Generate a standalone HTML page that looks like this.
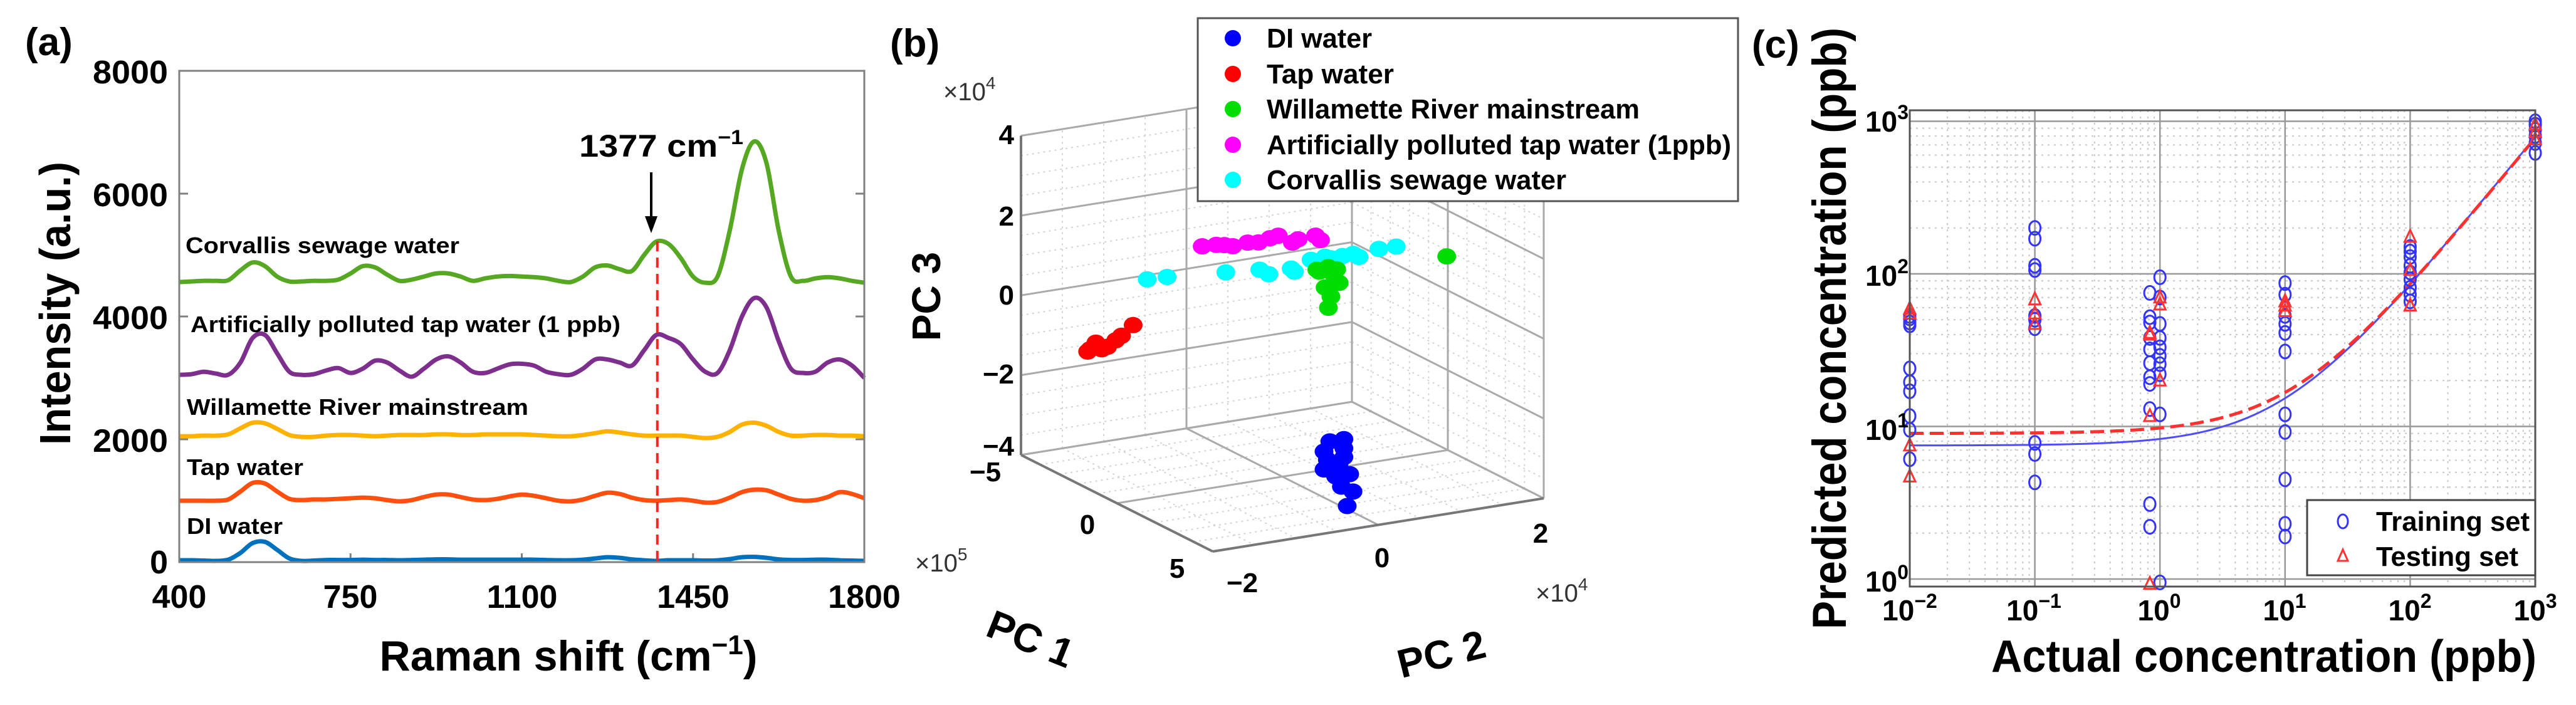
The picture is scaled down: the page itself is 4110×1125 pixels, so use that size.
<!DOCTYPE html>
<html><head><meta charset="utf-8"><style>
html,body{margin:0;padding:0;background:#fff;}
svg{display:block;font-family:"Liberation Sans",Arial,sans-serif;font-weight:bold;}
</style></head><body>
<svg id="fig" width="4110" height="1125" viewBox="0 0 4110 1125" xmlns="http://www.w3.org/2000/svg">
<rect x="0" y="0" width="4110" height="1125" fill="#fff"/>
<g id="panelA">
<text x="40" y="88" font-size="62">(a)</text>
<g id="aGrid"></g>
<g id="aLines"></g>
<rect x="286" y="113" width="1093" height="784" fill="none" stroke="#808080" stroke-width="3"/>
<g font-size="52" text-anchor="end">
<text x="268" y="915">0</text>
<text x="268" y="721" textLength="120" lengthAdjust="spacingAndGlyphs">2000</text>
<text x="268" y="525" textLength="120" lengthAdjust="spacingAndGlyphs">4000</text>
<text x="268" y="329" textLength="120" lengthAdjust="spacingAndGlyphs">6000</text>
<text x="268" y="133" textLength="120" lengthAdjust="spacingAndGlyphs">8000</text>
</g>
<g font-size="52" text-anchor="middle">
<text x="286" y="970">400</text><text x="559" y="970">750</text><text x="833" y="970">1100</text><text x="1106" y="970">1450</text><text x="1379" y="970">1800</text>
</g>
<text x="907" y="1070" font-size="68" text-anchor="middle" textLength="603" lengthAdjust="spacingAndGlyphs">Raman shift (cm<tspan font-size="44" dy="-26">−1</tspan><tspan dy="26">)</tspan></text>
<text transform="translate(112,484) rotate(-90)" font-size="70" text-anchor="middle" textLength="452" lengthAdjust="spacingAndGlyphs">Intensity (a.u.)</text>
<g font-size="36">
<text x="296" y="404" textLength="437" lengthAdjust="spacingAndGlyphs">Corvallis sewage water</text>
<text x="304" y="530" textLength="686" lengthAdjust="spacingAndGlyphs">Artificially polluted tap water (1 ppb)</text>
<text x="298" y="662" textLength="545" lengthAdjust="spacingAndGlyphs">Willamette River mainstream</text>
<text x="298" y="758" textLength="186" lengthAdjust="spacingAndGlyphs">Tap water</text>
<text x="298" y="852" textLength="153" lengthAdjust="spacingAndGlyphs">DI water</text>
</g>
<text x="924" y="250" font-size="50" textLength="262" lengthAdjust="spacingAndGlyphs">1377 cm<tspan font-size="32" dy="-20">−1</tspan></text>
<line x1="1039" y1="275" x2="1039" y2="352" stroke="#000" stroke-width="4"/>
<polygon points="1029,345 1049,345 1039,372" fill="#000"/>
</g>

<g id="panelB">
<text x="1420" y="90" font-size="62">(b)</text>
<g id="bGrid"></g>
<g id="bPts"></g>
<g font-size="44" text-anchor="end">
<text x="1618" y="230">4</text><text x="1618" y="360">2</text><text x="1618" y="486">0</text><text x="1618" y="612">−2</text><text x="1618" y="727">−4</text>
</g>
<text x="1505" y="160" font-size="40" font-weight="normal" fill="#333">×10<tspan font-size="28" dy="-18">4</tspan></text>
<text transform="translate(1500,473) rotate(-90)" font-size="64" text-anchor="middle">PC 3</text>
<g font-size="44" text-anchor="middle">
<text x="1572" y="768">−5</text><text x="1735" y="852">0</text><text x="1878" y="922">5</text>
</g>
<text x="1460" y="912" font-size="40" font-weight="normal" fill="#333">×10<tspan font-size="28" dy="-18">5</tspan></text>
<text transform="translate(1636,1040) rotate(22)" font-size="64" text-anchor="middle">PC 1</text>
<g font-size="44" text-anchor="middle">
<text x="1982" y="945">−2</text><text x="2205" y="905">0</text><text x="2458" y="866">2</text>
</g>
<text x="2450" y="960" font-size="40" font-weight="normal" fill="#333">×10<tspan font-size="28" dy="-18">4</tspan></text>
<text transform="translate(2305,1065) rotate(-14)" font-size="64" text-anchor="middle">PC 2</text>
<g>
<rect x="1911" y="29" width="862" height="292" fill="#fff" stroke="#555" stroke-width="3"/>
<circle cx="1967" cy="61" r="13" fill="#0000ff"/><circle cx="1967" cy="118" r="13" fill="#ff0000"/><circle cx="1967" cy="174" r="13" fill="#00dd00"/><circle cx="1967" cy="231" r="13" fill="#ff00ff"/><circle cx="1967" cy="287" r="13" fill="#00ffff"/>
<g font-size="44">
<text x="2021" y="76" textLength="168" lengthAdjust="spacingAndGlyphs">DI water</text>
<text x="2021" y="133" textLength="203" lengthAdjust="spacingAndGlyphs">Tap water</text>
<text x="2021" y="189" textLength="595" lengthAdjust="spacingAndGlyphs">Willamette River mainstream</text>
<text x="2021" y="246" textLength="741" lengthAdjust="spacingAndGlyphs">Artificially polluted tap water (1ppb)</text>
<text x="2021" y="302" textLength="478" lengthAdjust="spacingAndGlyphs">Corvallis sewage water</text>
</g></g>
</g>

<g id="panelC">
<text x="2795" y="92" font-size="62">(c)</text>
<g id="cGrid"></g>
<g id="cPts"></g>
<rect x="3047" y="176" width="998" height="760" fill="none" stroke="#555" stroke-width="3"/>
<g font-size="46" text-anchor="middle">
<text x="3047" y="990">10<tspan font-size="32" dy="-20">−2</tspan></text>
<text x="3245" y="990">10<tspan font-size="32" dy="-20">−1</tspan></text>
<text x="3445" y="990">10<tspan font-size="32" dy="-20">0</tspan></text>
<text x="3645" y="990">10<tspan font-size="32" dy="-20">1</tspan></text>
<text x="3845" y="990">10<tspan font-size="32" dy="-20">2</tspan></text>
<text x="4045" y="990">10<tspan font-size="32" dy="-20">3</tspan></text>
</g>
<g font-size="46" text-anchor="end">
<text x="3045" y="210">10<tspan font-size="32" dy="-20">3</tspan></text>
<text x="3045" y="456">10<tspan font-size="32" dy="-20">2</tspan></text>
<text x="3045" y="702">10<tspan font-size="32" dy="-20">1</tspan></text>
<text x="3045" y="944">10<tspan font-size="32" dy="-20">0</tspan></text>
</g>
<text x="3612" y="1072" font-size="72" text-anchor="middle" textLength="870" lengthAdjust="spacingAndGlyphs">Actual concentration (ppb)</text>
<text transform="translate(2945,524) rotate(-90)" font-size="76" text-anchor="middle" textLength="960" lengthAdjust="spacingAndGlyphs">Predicted concentration (ppb)</text>
<g>
<rect x="3681" y="798" width="364" height="120" fill="#fff" stroke="#444" stroke-width="3"/>
<ellipse cx="3738" cy="832" rx="8" ry="11" fill="none" stroke="#3333ff" stroke-width="3"/>
<polygon points="3738,877 3730,895 3746,895" fill="none" stroke="#ff3333" stroke-width="3"/>
<text x="3791" y="847" font-size="44" textLength="245" lengthAdjust="spacingAndGlyphs">Training set</text>
<text x="3791" y="903" font-size="44" textLength="227" lengthAdjust="spacingAndGlyphs">Testing set</text>
</g>
</g>
</svg>
<script>
const shifts=[400,425,450,475,500,525,550,575,600,625,650,675,700,725,750,775,800,825,850,875,900,925,950,975,1000,1025,1050,1075,1100,1125,1150,1175,1200,1225,1250,1275,1300,1325,1350,1375,1400,1425,1450,1475,1500,1525,1550,1575,1600,1625,1650,1675,1700,1725,1750,1775,1800];
const diWater=[30,30,25,20,40,150,310,330,200,60,20,25,35,35,35,40,35,35,30,35,40,45,45,40,40,40,40,40,40,40,35,30,30,40,60,80,70,45,30,20,30,30,30,25,30,50,80,85,70,45,35,35,40,40,30,25,20];
const tapWater=[1000,1000,1000,1000,1020,1150,1290,1280,1150,1030,1010,1020,1020,1030,1040,1050,1040,1010,990,1010,1060,1100,1100,1060,1020,1010,1030,1070,1100,1080,1040,1000,990,1020,1080,1130,1110,1050,1010,1000,1010,1020,1000,970,980,1050,1140,1180,1170,1100,1030,1000,1010,1060,1140,1110,1040];
const willamette=[2050,2050,2060,2060,2080,2180,2270,2260,2170,2070,2040,2040,2060,2070,2070,2060,2050,2060,2070,2070,2070,2080,2080,2070,2070,2080,2080,2080,2080,2070,2060,2050,2050,2070,2100,2130,2110,2080,2060,2060,2060,2060,2040,2020,2040,2120,2240,2270,2220,2120,2060,2060,2070,2070,2060,2060,2050];
const artificial=[3050,3060,3100,3070,3050,3250,3650,3700,3400,3100,3050,3060,3120,3160,3080,3150,3280,3250,3120,3020,3150,3300,3350,3250,3100,3080,3150,3220,3230,3200,3100,3060,3050,3150,3300,3300,3250,3200,3450,3700,3650,3550,3300,3100,3080,3450,4000,4300,4150,3600,3150,3080,3100,3250,3300,3200,3000];
const corvallis=[4560,4570,4580,4580,4590,4750,4880,4820,4650,4570,4570,4580,4580,4600,4700,4820,4800,4680,4580,4600,4650,4700,4700,4650,4580,4620,4650,4660,4650,4640,4620,4580,4560,4650,4800,4830,4770,4740,5000,5220,5180,4950,4650,4550,4650,5400,6400,6850,6500,5400,4650,4580,4620,4640,4620,4580,4550];
const aYTicks=[0,2000,4000,6000,8000];
const aXTicks=[400,750,1100,1450,1800];
const markShift=[1377];

const diPC1=[2,2,2,2,2,2,2,2,2,2,2,2,2];
const diPC2=[0.11,0.28,0.04,0.28,0.08,0.28,0.04,0.22,0.35,0.18,0.25,0.39,0.32];
const diPC3=[-2.67,-2.67,-2.90,-2.90,-3.12,-3.12,-3.35,-3.29,-3.57,-3.57,-3.85,-4.02,-4.36];
const tapPC1=[-2,-2,-2,-2,-2,-2,-2,-2];
const tapPC2=[-1.89,-1.79,-1.65,-1.55,-1.48,-1.34,-1.72,-1.86];
const tapPC3=[-0.72,-0.53,-0.68,-0.55,-0.46,-0.24,-0.72,-0.67];
const magPC1=[-5,-5,-5,-5,-5,-5,-5,-5,-5,-5,-5,-5];
const magPC2=[0.19,0.36,0.56,0.74,0.87,1.01,1.11,1.28,1.35,1.56,1.62,0.46];
const magPC3=[0.50,0.48,0.38,0.41,0.37,0.43,0.46,0.23,0.29,0.31,0.18,0.44];
const cyPC1=[-2,-2,-2,-2,-2,-2,-2,-2,-2,-2,-2,-2,-2,-2,-2];
const cyPC2=[-1.17,-0.93,-0.22,0.19,0.30,0.57,0.61,0.81,0.98,1.19,1.32,1.39,1.63,1.84,1.05];
const cyPC3=[0.85,0.83,0.71,0.64,0.49,0.54,0.45,0.68,0.70,0.65,0.66,0.56,0.68,0.67,0.64];
const grPC1=[-2,-2,-2,-2,-2,-2,-2,-2,-2,-2];
const grPC2=[0.88,1.02,1.08,1.15,0.98,1.05,1.02,0.91,1.12,2.45];
const grPC3=[0.41,0.43,0.23,-0.01,-0.07,-0.32,-0.59,0.35,0.34,0.22];

const trainX=[0.01,0.01,0.01,0.01,0.01,0.01,0.01,0.01,0.01,0.01,
 0.1,0.1,0.1,0.1,0.1,0.1,0.1,0.1,0.1,0.1,
 0.83,0.83,0.83,0.83,0.83,0.83,0.83,0.83,0.83,0.83,0.83,
 1,1,1,1,1,1,1,1,1,1,
 10,10,10,10,10,10,10,10,10,10,10,
 100,100,100,100,100,100,100,100,100,
 1000,1000,1000,1000,1000,1000];
const trainY=[53,51,48,46,24,19.5,17,11.7,9.5,6.1,
 200,170,113,106,53,50,44,7.8,6.6,4.3,
 75,52,48,38,32,26,21,19,13,3.1,2.2,
 95,70,47,38,33,29,25.6,22,12,0.95,
 87,73,53,47,41,31,12,9.2,4.5,2.3,1.9,
 150,140,129,113,102,92,81,73,66,
 1000,950,880,800,720,620];
const testX=[0.01,0.01,0.01,0.01,0.1,0.1,0.1,0.83,0.83,0.83,0.83,1,1,1,10,10,10,100,100,100,1000,1000,1000];
const testY=[59,55,7.5,4.7,68,55,47,41,40,11.7,0.93,70,63,20,66,62,57,175,106,62,950,850,760];
const fitTrain=[7.5,0.78];
const fitTest=[9.0,0.77];

const NS="http://www.w3.org/2000/svg";
function mk(tag,attrs,parent){const e=document.createElementNS(NS,tag);for(const k in attrs)e.setAttribute(k,attrs[k]);parent.appendChild(e);return e;}

const xa=s=>286+(s-400)/1400*1093;
const ya=v=>897-v/8000*784;
const aLines=document.getElementById('aLines');
const aGrid=document.getElementById('aGrid');
aYTicks.forEach(t=>{
  const l=mk('line',{x1:286,x2:300,y1:ya(t),y2:ya(t),stroke:'#808080','stroke-width':3},aGrid);
  
  
  const r=mk('line',{x1:1365,x2:1379,y1:ya(t),y2:ya(t),stroke:'#808080','stroke-width':3},aGrid);
  
  
});
aXTicks.forEach(t=>{
  const l=mk('line',{x1:xa(t),x2:xa(t),y1:897,y2:883,stroke:'#808080','stroke-width':3},aGrid);
  
  
});
function smoothPath(xs,ys){
  let d=`M${xs[0]},${ys[0]}`;
  for(let i=0;i<xs.length-1;i++){
    const x0=xs[Math.max(i-1,0)],y0=ys[Math.max(i-1,0)],x1=xs[i],y1=ys[i],x2=xs[i+1],y2=ys[i+1],x3=xs[Math.min(i+2,xs.length-1)],y3=ys[Math.min(i+2,xs.length-1)];
    d+=` C${x1+(x2-x0)/6},${y1+(y2-y0)/6} ${x2-(x3-x1)/6},${y2-(y3-y1)/6} ${x2},${y2}`;
  }
  return d;
}
const aSeries=[[diWater,'#0072BD','di-water-spectrum'],[tapWater,'#FF4F0F','tap-water-spectrum'],[willamette,'#FFB300','willamette-spectrum'],[artificial,'#7E2F8E','artificial-spectrum'],[corvallis,'#56A822','corvallis-spectrum']];
aSeries.forEach(([vals,col,name])=>{
  const p=mk('path',{d:smoothPath(shifts.map(xa),vals.map(ya)),fill:'none',stroke:col,'stroke-width':7,'stroke-linejoin':'round'},aLines);
  
  
});
markShift.forEach(s=>{
  const l=mk('line',{x1:xa(s),x2:xa(s),y1:385,y2:897,stroke:'#ff2020','stroke-width':4,'stroke-dasharray':'16,10'},aLines);
  
  
});

const P=(p1,p2,p3)=>[1629+30.6*(p1+5)+132.0*(p2+2), 726+15.4*(p1+5)-21.2*(p2+2)-63.67*(p3+4)];
const bGrid=document.getElementById('bGrid');
function seg(a,b,col,w,dash,name){
  const l=mk('line',{x1:a[0],y1:a[1],x2:b[0],y2:b[1],stroke:col,'stroke-width':w},bGrid);
  if(dash)l.setAttribute('stroke-dasharray',dash);
  
  
}
for(let z=-4;z<=4.01;z+=0.5){seg(P(-5,-2,z),P(-5,2,z),'#d4d4d4',2,'3,6','minor-grid-b');seg(P(-5,2,z),P(5,2,z),'#d4d4d4',2,'3,6','minor-grid-b');}
for(let q=-2;q<=2.01;q+=0.5){seg(P(-5,q,-4),P(-5,q,4),'#d4d4d4',2,'3,6','minor-grid-b');seg(P(-5,q,-4),P(5,q,-4),'#d4d4d4',2,'3,6','minor-grid-b');}
for(let q=-5;q<=5.01;q+=1){seg(P(q,2,-4),P(q,2,4),'#d4d4d4',2,'3,6','minor-grid-b');seg(P(q,-2,-4),P(q,2,-4),'#d4d4d4',2,'3,6','minor-grid-b');}
[-4,-2,0,2,4].forEach(z=>{seg(P(-5,-2,z),P(-5,2,z),'#aaa',3,null,'major-grid-b');seg(P(-5,2,z),P(5,2,z),'#aaa',3,null,'major-grid-b');});
[-2,0,2].forEach(q=>{seg(P(-5,q,-4),P(-5,q,4),'#aaa',3,null,'major-grid-b');seg(P(-5,q,-4),P(5,q,-4),'#aaa',3,null,'major-grid-b');});
[-5,0,5].forEach(q=>{seg(P(q,2,-4),P(q,2,4),'#aaa',3,null,'major-grid-b');seg(P(q,-2,-4),P(q,2,-4),'#aaa',3,null,'major-grid-b');});
seg(P(-5,-2,-4),P(5,-2,-4),'#777',4,null,'pc1-axis-line');
seg(P(5,-2,-4),P(5,2,-4),'#777',4,null,'pc2-axis-line');
seg(P(-5,-2,-4),P(-5,-2,4),'#777',4,null,'pc3-axis-line');
const bPts=document.getElementById('bPts');
const bSeries=[[diPC1,diPC2,diPC3,'#0000ff','di-water-point'],[tapPC1,tapPC2,tapPC3,'#ff0000','tap-water-point'],[magPC1,magPC2,magPC3,'#ff00ff','artificial-point'],[cyPC1,cyPC2,cyPC3,'#00ffff','corvallis-point'],[grPC1,grPC2,grPC3,'#00dd00','willamette-point']];
bSeries.forEach(([a,b,c,col,name])=>{
  a.forEach((v,i)=>{
    const [x,y]=P(v,b[i],c[i]);
    const e=mk('ellipse',{cx:x,cy:y,rx:15,ry:13,fill:col},bPts);
    
    
  });
});

const xc=v=>3047+(Math.log10(v)+2)*199.6;
const yc=v=>924-Math.log10(v)*243.5;
const cGrid=document.getElementById('cGrid');
function cl(x1,y1,x2,y2,col,w,dash,name){
  const l=mk('line',{x1,y1,x2,y2,stroke:col,'stroke-width':w},cGrid);
  if(dash)l.setAttribute('stroke-dasharray',dash);
  
  
}
for(let d=-2;d<3;d++)for(let m=2;m<10;m++){const x=xc(m*Math.pow(10,d));cl(x,176,x,936,'#c8c8c8',2,'3,7','minor-gridline-x');}
for(let d=0;d<3;d++)for(let m=2;m<10;m++){const y=yc(m*Math.pow(10,d));cl(3047,y,4045,y,'#c8c8c8',2,'3,7','minor-gridline-y');}
[0.01,0.1,1,10,100,1000].forEach(v=>cl(xc(v),176,xc(v),936,'#999',2.5,null,'major-gridline-x'));
[1,10,100,1000].forEach(v=>cl(3047,yc(v),4045,yc(v),'#999',2.5,null,'major-gridline-y'));
const cPts=document.getElementById('cPts');
function fitPath(par){
  let d='';
  for(let i=0;i<=100;i++){const v=Math.pow(10,-2+i*0.05);d+=(i?'L':'M')+xc(v)+','+yc(par[0]+par[1]*v);}
  return d;
}
const fb=mk('path',{d:fitPath(fitTrain),fill:'none',stroke:'#4d4dff','stroke-width':3},cPts);


const fr=mk('path',{d:fitPath(fitTest),fill:'none',stroke:'#ff3030','stroke-width':5,'stroke-dasharray':'22,10'},cPts);


trainX.forEach((v,i)=>{
  const e=mk('ellipse',{cx:xc(v),cy:yc(trainY[i]),rx:9,ry:11,fill:'none',stroke:'#3333ff','stroke-width':3},cPts);
  
  
});
testX.forEach((v,i)=>{
  const x=xc(v),y=yc(testY[i]);
  const t=mk('polygon',{points:`${x},${y-11} ${x-9},${y+8} ${x+9},${y+8}`,fill:'none',stroke:'#ff3333','stroke-width':3},cPts);
  
  
});
</script>
</body></html>
